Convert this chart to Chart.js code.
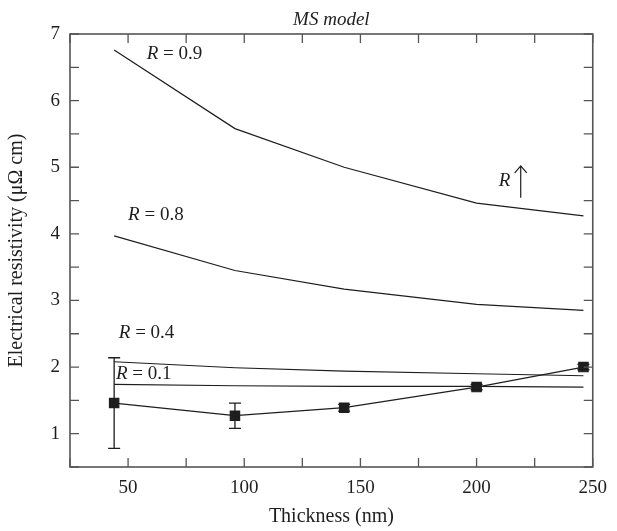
<!DOCTYPE html>
<html>
  <head>
    <script src="https://cdn.jsdelivr.net/npm/chart.js@4.4.0/dist/chart.umd.min.js"></script>
    <style>
      body { margin: 0; background: #fff; }
    </style>
  </head>

  <body>
    <div style="width: 617px; height: 531px">
      <canvas id="canvas"></canvas>
    </div>
    <script>
      // thickness (nm) of the measured films, model curves use the same x values
      const thickness = [44, 96, 143, 200, 246];
      const measured = [1.46, 1.27, 1.39, 1.7, 2.0];
      const measuredErr = [0.68, 0.19, 0.05, 0.04, 0.04];
      const r09 = [6.76, 5.58, 5.0, 4.46, 4.27];
      const r08 = [3.97, 3.45, 3.17, 2.94, 2.85];
      const r04 = [2.08, 1.99, 1.94, 1.9, 1.87];
      const r01 = [1.74, 1.72, 1.71, 1.71, 1.7];

      const curveLabels = [
        { text: '0.9', x: 58, y: 6.7 },
        { text: '0.8', x: 50, y: 4.28 },
        { text: '0.4', x: 46, y: 2.51 },
        { text: '0.1', x: 44.8, y: 1.9 },
      ];

      const ink = '#1e1e1e';
      const serif = "'Liberation Serif', 'DejaVu Serif', serif";

      const pts = (ys) => thickness.map((x, i) => ({ x: x, y: ys[i] }));
      const curve = (ys) => ({
        data: pts(ys),
        showLine: true,
        borderColor: ink,
        borderWidth: 1.2,
        pointRadius: 0,
      });

      const frame = {
        id: 'frame',
        afterDatasetsDraw(chart) {
          const { ctx, chartArea: a, scales } = chart;
          const xs = scales.x, ys = scales.y;
          ctx.save();
          // error bars of the measured series
          const meta = chart.getDatasetMeta(0);
          ctx.strokeStyle = ink;
          ctx.lineWidth = 1.3;
          meta.data.forEach((p, i) => {
            const top = ys.getPixelForValue(measured[i] + measuredErr[i]);
            const bot = ys.getPixelForValue(measured[i] - measuredErr[i]);
            ctx.beginPath();
            ctx.moveTo(p.x, top); ctx.lineTo(p.x, bot);
            ctx.moveTo(p.x - 6, top); ctx.lineTo(p.x + 6, top);
            ctx.moveTo(p.x - 6, bot); ctx.lineTo(p.x + 6, bot);
            ctx.stroke();
          });

          // inward ticks on all four sides
          ctx.strokeStyle = '#555';
          ctx.lineWidth = 1.3;
          ctx.beginPath();
          xs.ticks.forEach((t) => {
            const px = xs.getPixelForValue(t.value);
            ctx.moveTo(px, a.bottom); ctx.lineTo(px, a.bottom - 9);
            ctx.moveTo(px, a.top); ctx.lineTo(px, a.top + 9);
          });
          ys.ticks.forEach((t) => {
            const py = ys.getPixelForValue(t.value);
            ctx.moveTo(a.left, py); ctx.lineTo(a.left + 9, py);
            ctx.moveTo(a.right, py); ctx.lineTo(a.right - 9, py);
          });
          ctx.stroke();
          ctx.lineWidth = 1.6;
          ctx.strokeRect(a.left, a.top, a.right - a.left, a.bottom - a.top);

          // title, centred over the plot area
          ctx.fillStyle = ink;
          ctx.textAlign = 'center';
          ctx.textBaseline = 'middle';
          ctx.font = 'italic 19px ' + serif;
          ctx.fillText('MS model', (a.left + a.right) / 2, 20);

          // curve labels
          ctx.textAlign = 'left';
          curveLabels.forEach((l) => {
            const px = xs.getPixelForValue(l.x);
            const py = ys.getPixelForValue(l.y);
            ctx.font = 'italic 19px ' + serif;
            ctx.fillText('R', px, py);
            const w = ctx.measureText('R').width;
            ctx.font = '19px ' + serif;
            ctx.fillText(' = ' + l.text, px + w, py);
          });

          // R with upward arrow
          ctx.font = 'italic 19px ' + serif;
          ctx.textAlign = 'right';
          ctx.fillText('R', xs.getPixelForValue(214.5), ys.getPixelForValue(4.8));
          const ax = xs.getPixelForValue(219);
          const aTop = ys.getPixelForValue(5.02);
          const aBot = ys.getPixelForValue(4.54);
          ctx.lineWidth = 1.2;
          ctx.strokeStyle = ink;
          ctx.beginPath();
          ctx.moveTo(ax, aBot); ctx.lineTo(ax, aTop);
          ctx.moveTo(ax - 6, aTop + 7); ctx.lineTo(ax, aTop); ctx.lineTo(ax + 6, aTop + 7);
          ctx.stroke();
          ctx.restore();
        },
      };

      new Chart(document.getElementById('canvas').getContext('2d'), {
        type: 'scatter',
        data: {
          datasets: [
            {
              label: 'Measured',
              data: pts(measured),
              showLine: true,
              borderColor: ink,
              borderWidth: 1.2,
              backgroundColor: ink,
              pointStyle: 'rect',
              pointRadius: 6.6,
            },
            curve(r09),
            curve(r08),
            curve(r04),
            curve(r01),
          ],
        },
        options: {
          animation: false,
          responsive: true,
          maintainAspectRatio: false,
          layout: { padding: { right: 14, bottom: 0, left: 0, top: 34 } },
          plugins: {
            legend: { display: false },
            tooltip: { enabled: false },
          },
          scales: {
            x: {
              type: 'linear',
              min: 25,
              max: 250,
              afterFit: (s) => { s.height = 64; },
              grid: { drawOnChartArea: false, drawTicks: false },
              border: { display: false },
              ticks: {
                stepSize: 25,
                autoSkip: false,
                maxRotation: 0,
                padding: 10,
                color: ink,
                font: { family: serif, size: 19 },
                callback: (v) => (v % 50 === 0 ? v : ''),
              },
              title: {
                display: true,
                text: 'Thickness (nm)',
                color: ink,
                font: { family: serif, size: 20 },
                padding: { top: 0, bottom: 2 },
              },
            },
            y: {
              type: 'linear',
              min: 0.5,
              max: 7,
              afterFit: (s) => { s.width = 70; },
              grid: { drawOnChartArea: false, drawTicks: false },
              border: { display: false },
              ticks: {
                stepSize: 0.5,
                autoSkip: false,
                padding: 10,
                color: ink,
                font: { family: serif, size: 19 },
                callback: (v) => (Number.isInteger(v) ? v : ''),
              },
              title: {
                display: true,
                text: 'Electrical resistivity (μΩ cm)',
                color: ink,
                font: { family: serif, size: 20 },
                padding: { top: 5, bottom: 0 },
              },
            },
          },
        },
        plugins: [frame],
      });
    </script>
  </body>
</html>
